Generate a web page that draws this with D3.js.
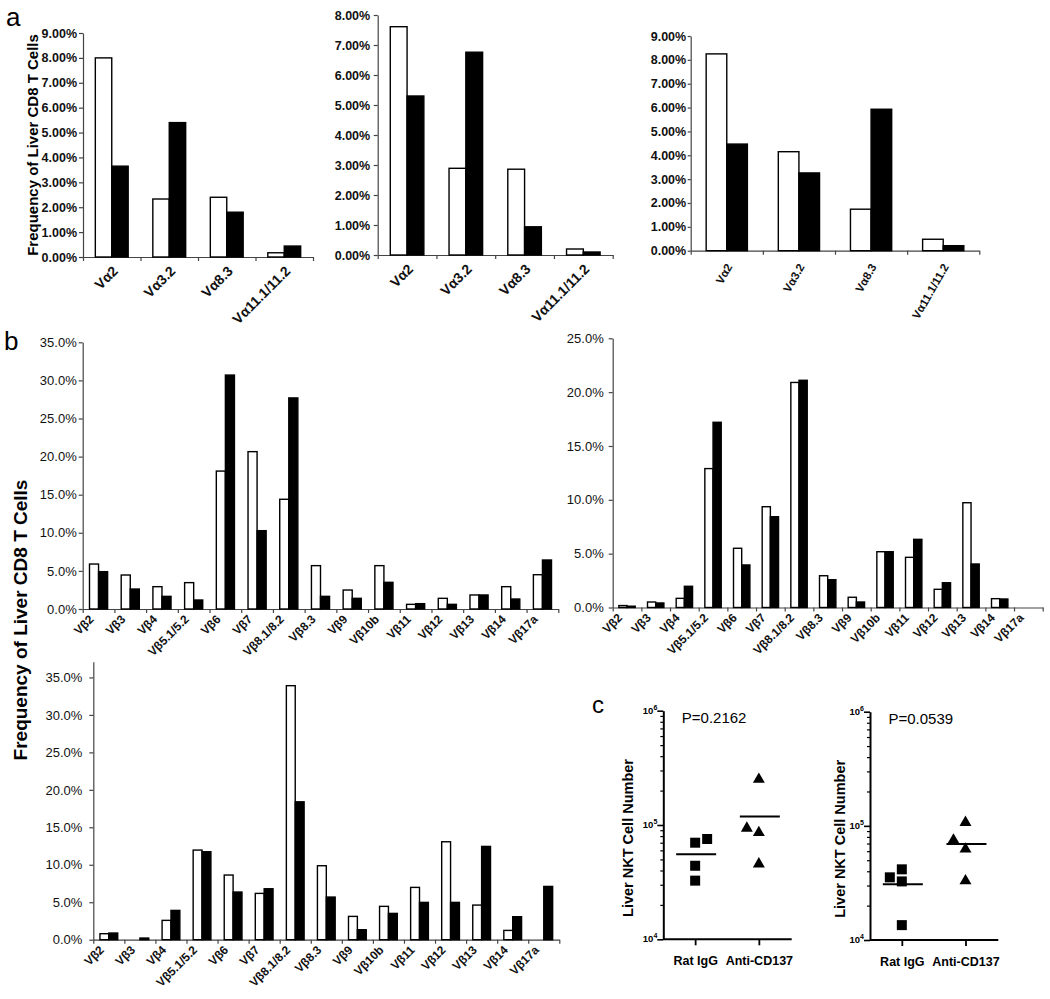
<!DOCTYPE html>
<html><head><meta charset="utf-8">
<script src="https://cdn.jsdelivr.net/npm/d3@7"></script>
<style>
body{margin:0;background:#fff}
text{font-family:"Liberation Sans",Arial,Helvetica,sans-serif}
</style>
</head><body>
<svg id="fig" width="1050" height="999"></svg>
<script>
// ---------- DATA ----------
const aCategories = ["Vα2", "Vα3.2", "Vα8.3", "Vα11.1/11.2"];
const a1Open   = [8.00, 2.33, 2.40, 0.17];
const a1Filled = [3.65, 5.40, 1.80, 0.44];
const a2Open   = [7.61, 2.89, 2.86, 0.20];
const a2Filled = [5.30, 6.76, 0.94, 0.10];
const a3Open   = [8.25, 4.15, 1.74, 0.48];
const a3Filled = [4.47, 3.26, 5.93, 0.21];
const a1Ticks = [0,1,2,3,4,5,6,7,8,9];
const a2Ticks = [0,1,2,3,4,5,6,7,8];
const a3Ticks = [0,1,2,3,4,5,6,7,8,9];

const bCategories = ["Vβ2","Vβ3","Vβ4","Vβ5.1/5.2","Vβ6","Vβ7","Vβ8.1/8.2","Vβ8.3","Vβ9","Vβ10b","Vβ11","Vβ12","Vβ13","Vβ14","Vβ17a"];
const b1Open   = [5.9, 4.46, 2.93, 3.46, 18.1, 20.65, 14.4, 5.69, 2.49, 5.69, 0.61, 1.4, 1.84, 2.93, 4.5];
const b1Filled = [4.9, 2.62, 1.66, 1.18, 30.7, 10.28, 27.7, 1.66, 1.4, 3.5, 0.7, 0.61, 1.84, 1.31, 6.43];
const b2Open   = [0.18, 0.51, 0.85, 12.9, 5.5, 9.36, 20.9, 2.95, 0.95, 5.18, 4.66, 1.69, 9.73, 0.82, 0];
const b2Filled = [0.12, 0.42, 1.97, 17.2, 3.95, 8.43, 21.1, 2.58, 0.51, 5.18, 6.33, 2.3, 4.04, 0.79, 0];
const b3Open   = [0.8, 0, 2.58, 11.96, 8.63, 6.18, 33.9, 9.87, 3.11, 4.45, 6.98, 13.07, 4.62, 1.24, 0];
const b3Filled = [0.89, 0.22, 3.91, 11.74, 6.36, 6.8, 18.4, 5.69, 1.33, 3.51, 4.98, 4.98, 12.45, 3.07, 7.11];
const b1Ticks = [0,5,10,15,20,25,30,35];
const b2Ticks = [0,5,10,15,20,25];
const b3Ticks = [0,5,10,15,20,25,30,35];

const cGroups = ["Rat IgG", "Anti-CD137"];
const c1Rat  = [7.0e4, 7.54e4, 4.4e4, 3.26e4];
const c1Anti = [2.51e5, 9.36e4, 8.57e4, 4.56e4];
const c2Rat  = [3.54e4, 4.16e4, 3.26e4, 1.35e4];
const c2Anti = [1.07e5, 7.5e4, 6.25e4, 3.3e4];
// scatter spreading slot (column index) for overlapping points
const c1RatSlot  = [0, 1, 0, 0];
const c1AntiSlot = [0, -1, 0, 0];
const c2RatSlot  = [-1, 0, 0, 0];
const c2AntiSlot = [0, -1, 0, 0];
const cPValues = ["P=0.2162", "P=0.0539"];
const cMajorTicks = [1e4, 1e5, 1e6];
const cTickExp = ["4", "5", "6"];
const yTitle = "Frequency of Liver CD8 T Cells";
const cTitle = "Liver NKT Cell Number";

// ---------- DRAW ----------
const svg = d3.select("#fig");
svg.append("rect").attr("width", 1050).attr("height", 999).attr("fill", "#fff");

function barPanel(o) {
  const g = svg.append("g");
  const n = o.cats.length;
  const y = d3.scaleLinear().domain([0, o.max]).range([o.y0, o.y1]);
  const pos = d3.scaleLinear().domain([0, n]).range([o.x0, o.x1]);
  const xb = d3.scaleBand().domain(o.cats).range([o.x0, o.x1])
    .paddingInner(0.4286).paddingOuter(0.2143);
  const xs = d3.scaleBand().domain(["open", "filled"]).range([0, xb.bandwidth()]);
  const rows = o.cats.map((c, i) => ({c, open: o.open[i], filled: o.filled[i]}));

  const ya = d3.axisLeft(y).tickValues(o.ticks).tickFormat(o.fmt)
    .tickSize(o.tickSize).tickPadding(o.pad).tickSizeOuter(0);
  const yg = g.append("g").attr("transform", `translate(${o.x0},0)`).call(ya);
  yg.select(".domain").attr("stroke", "#444").attr("stroke-width", 1.2);
  yg.selectAll(".tick line").attr("stroke", "#444").attr("stroke-width", 1.2);
  yg.selectAll(".tick text").attr("fill", "#111")
    .style("font-size", o.tickFont + "px").style("font-weight", o.tickBold ? "bold" : "normal");

  const xa = d3.axisBottom(pos).tickValues(d3.range(n + 1)).tickFormat("")
    .tickSize(4).tickSizeOuter(0);
  const xg = g.append("g").attr("transform", `translate(0,${o.y0})`).call(xa);
  xg.select(".domain").attr("stroke", "#444").attr("stroke-width", 1.2);
  xg.selectAll(".tick line").attr("stroke", "#444").attr("stroke-width", 1.2);

  const grp = g.selectAll("g.grp").data(rows).join("g").attr("class", "grp")
    .attr("transform", d => `translate(${xb(d.c)},0)`);
  grp.selectAll("rect").data(d => [{k: "open", v: d.open}, {k: "filled", v: d.filled}].filter(e => e.v > 0))
    .join("rect")
    .attr("x", e => xs(e.k)).attr("width", xs.bandwidth())
    .attr("y", e => y(e.v)).attr("height", e => y(0) - y(e.v))
    .attr("fill", e => e.k === "open" ? "#fff" : "#000")
    .attr("stroke", "#000").attr("stroke-width", 1.4);

  g.selectAll("g.cat").data(o.cats).join("g").attr("class", "cat")
    .attr("transform", c => `translate(${xb(c) + xb.bandwidth() / 2 + o.ldx},${o.y0 + o.ldy})`)
    .append("text")
    .attr("transform", `rotate(${o.angle})`)
    .attr("text-anchor", "end")
    .style("font-size", o.labFont + "px").style("font-weight", "bold").attr("fill", "#111")
    .text(c => c);
}

const fmt2 = v => d3.format(".2f")(v) + "%";
const fmt1 = v => d3.format(".1f")(v) + "%";

barPanel({cats: aCategories, open: a1Open, filled: a1Filled, max: 9, ticks: a1Ticks, fmt: fmt2,
  x0: 83, x1: 313, y0: 257, y1: 33, tickSize: 4, pad: 2, tickFont: 12.5, tickBold: true,
  labFont: 14, angle: -45, ldx: 7, ldy: 15});
barPanel({cats: aCategories, open: a2Open, filled: a2Filled, max: 8, ticks: a2Ticks, fmt: fmt2,
  x0: 377.7, x1: 612.7, y0: 255, y1: 15, tickSize: 4, pad: 3.5, tickFont: 12.5, tickBold: true,
  labFont: 14, angle: -45, ldx: 7, ldy: 15});
barPanel({cats: aCategories, open: a3Open, filled: a3Filled, max: 9, ticks: a3Ticks, fmt: fmt2,
  x0: 690.7, x1: 979.3, y0: 250.7, y1: 36, tickSize: 3, pad: 1.5, tickFont: 12.5, tickBold: true,
  labFont: 11.5, angle: -60, ldx: 6, ldy: 16});

barPanel({cats: bCategories, open: b1Open, filled: b1Filled, max: 35, ticks: b1Ticks, fmt: fmt1,
  x0: 82.7, x1: 558.3, y0: 609, y1: 342.3, tickSize: 4, pad: 2, tickFont: 13, tickBold: false,
  labFont: 12, angle: -45, ldx: -4, ldy: 11});
barPanel({cats: bCategories, open: b2Open, filled: b2Filled, max: 25, ticks: b2Ticks, fmt: fmt1,
  x0: 612.7, x1: 1042.7, y0: 607.5, y1: 338.3, tickSize: 4, pad: 5, tickFont: 13, tickBold: false,
  labFont: 12, angle: -45, ldx: -4, ldy: 11});
barPanel({cats: bCategories, open: b3Open, filled: b3Filled, max: 37.1, ticks: b3Ticks, fmt: fmt1,
  x0: 93.3, x1: 559.3, y0: 939.7, y1: 661.7, tickSize: 4, pad: 7, tickFont: 13, tickBold: false,
  labFont: 12, angle: -45, ldx: -4, ldy: 11});

svg.append("text").attr("transform", "translate(38,145) rotate(-90)").attr("text-anchor", "middle")
  .style("font-size", "15px").style("font-weight", "bold").text(yTitle);
svg.append("text").attr("transform", "translate(27,620) rotate(-90)").attr("text-anchor", "middle")
  .style("font-size", "19px").style("font-weight", "bold").text(yTitle);

svg.append("text").attr("x", 6).attr("y", 26).style("font-size", "26px").text("a");
svg.append("text").attr("x", 4).attr("y", 350).style("font-size", "26px").text("b");
svg.append("text").attr("x", 592).attr("y", 713).style("font-size", "24px").text("c");

function scatterPanel(o) {
  const g = svg.append("g");
  const y = d3.scaleLog().domain([1e4, 1e6]).range([o.yb, o.yt]);
  const x = d3.scalePoint().domain(cGroups).range([o.x0, o.x1]).padding(0.5);

  const minors = [];
  [1e4, 1e5].forEach(b => { for (let k = 2; k <= 9; k++) minors.push(b * k); });
  const ymin = g.append("g").attr("transform", `translate(${o.x0},0)`)
    .call(d3.axisLeft(y).tickValues(minors).tickFormat("").tickSize(3).tickSizeOuter(0));
  ymin.select(".domain").remove();
  ymin.selectAll(".tick line").attr("stroke", "#000").attr("stroke-width", 1.2);

  const ymaj = g.append("g").attr("transform", `translate(${o.x0},0)`)
    .call(d3.axisLeft(y).tickValues(cMajorTicks).tickFormat("").tickSize(6).tickSizeOuter(0));
  ymaj.select(".domain").attr("stroke", "#000").attr("stroke-width", 2);
  ymaj.selectAll(".tick line").attr("stroke", "#000").attr("stroke-width", 1.6);
  cMajorTicks.forEach((v, i) => {
    const t = g.append("text").attr("x", o.x0 - 6).attr("y", y(v) + 3)
      .attr("text-anchor", "end").style("font-size", "9.5px").style("font-weight", "bold");
    t.append("tspan").text("10");
    t.append("tspan").attr("dy", -4).style("font-size", "7px").text(cTickExp[i]);
  });

  const xa = d3.axisBottom(x).tickSize(6).tickPadding(11).tickSizeOuter(0);
  const xg = g.append("g").attr("transform", `translate(0,${o.yb})`).call(xa);
  xg.select(".domain").attr("stroke", "#000").attr("stroke-width", 2)
    .attr("d", `M${o.x0},0H${o.x1 + 1}`);
  xg.selectAll(".tick line").attr("stroke", "#000").attr("stroke-width", 1.8);
  xg.selectAll(".tick text").attr("fill", "#000").style("font-size", "12.5px").style("font-weight", "bold");

  const sets = [
    {grp: cGroups[0], vals: o.rat, slot: o.ratSlot, sym: d3.symbolSquare, size: 100},
    {grp: cGroups[1], vals: o.anti, slot: o.antiSlot, sym: d3.symbolTriangle, size: 62}
  ];
  sets.forEach(s => {
    g.selectAll(null).data(s.vals.map((v, i) => ({v, s: s.slot[i]}))).join("path")
      .attr("d", d3.symbol(s.sym, s.size))
      .attr("transform", d => `translate(${x(s.grp) + d.s * 12},${y(d.v)})`)
      .attr("fill", "#000");
    const m = d3.mean(s.vals);
    g.append("line").attr("x1", x(s.grp) - 19).attr("x2", x(s.grp) + 21)
      .attr("y1", y(m)).attr("y2", y(m)).attr("stroke", "#000").attr("stroke-width", 2);
  });

  g.append("text").attr("x", o.x0 + 18.5).attr("y", o.yt + 12).style("font-size", "15px").text(o.p);
  g.append("text").attr("transform", `translate(${o.tx},${(o.yt + o.yb) / 2 + 13}) rotate(-90)`)
    .attr("text-anchor", "middle").style("font-size", "14.5px").style("font-weight", "bold").text(cTitle);
}

scatterPanel({x0: 663.3, x1: 790.7, yb: 939.3, yt: 710.7, rat: c1Rat, anti: c1Anti,
  ratSlot: c1RatSlot, antiSlot: c1AntiSlot, p: cPValues[0], tx: 633});
scatterPanel({x0: 870, x1: 997.3, yb: 940, yt: 711.7, rat: c2Rat, anti: c2Anti,
  ratSlot: c2RatSlot, antiSlot: c2AntiSlot, p: cPValues[1], tx: 845});
</script>
</body></html>
